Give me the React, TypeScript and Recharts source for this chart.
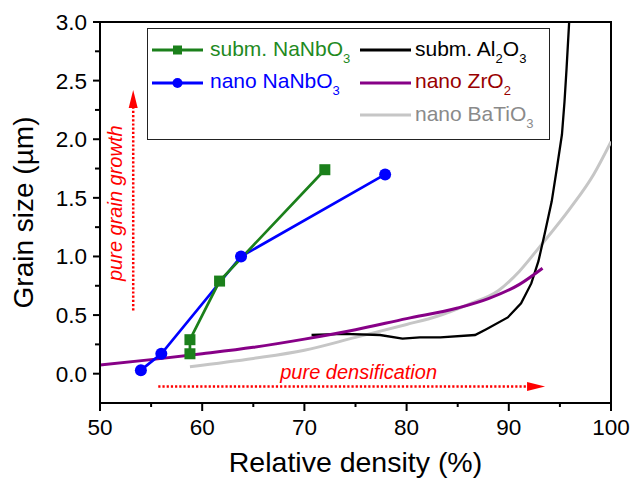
import React from "react";
import {
  Legend,
  Line,
  LineChart,
  ReferenceArea,
  ReferenceLine,
  XAxis,
  YAxis,
} from "recharts";

const FONT = "'Liberation Sans', Arial, sans-serif";

const C = {
  green: "#1b801b",
  greenText: "#1f8a1f",
  blue: "#0000ff",
  black: "#000000",
  purple: "#870087",
  gray: "#c6c6c6",
  red: "#ff0000",
  zrText: "#990000",
  baText: "#8a8a8a",
};

// relative density (%) vs grain size (µm)
const submNaNbO3Density = [58.8, 58.8, 61.7, 72.0];
const submNaNbO3Size = [0.17, 0.29, 0.79, 1.74];

const nanoNaNbO3Density = [54.0, 56.0, 63.8, 77.9];
const nanoNaNbO3Size = [0.03, 0.17, 1.0, 1.7];

const submAl2O3Density = [
  70.7, 73.8, 77.4, 79.6, 81.3, 83.3, 86.7, 87.8, 89.9, 91.2, 92.2, 92.9, 93.5,
  94.2, 94.7, 95.2, 95.45, 95.65, 95.9, 96.1,
];
const submAl2O3Size = [
  0.33, 0.34, 0.33, 0.3, 0.31, 0.31, 0.33, 0.38, 0.48, 0.6, 0.77, 0.96, 1.19,
  1.47, 1.75, 2.04, 2.32, 2.6, 2.99, 3.3,
];

const nanoZrO2Density = [50, 55, 60, 65, 70, 75, 80, 85, 88, 91, 93.3];
const nanoZrO2Size = [0.075, 0.12, 0.17, 0.225, 0.295, 0.375, 0.47, 0.56, 0.64, 0.76, 0.9];

const nanoBaTiO3Density = [58.8, 65, 70, 75, 80, 83, 86, 89, 91, 93, 96, 98.3, 100];
const nanoBaTiO3Size = [0.06, 0.13, 0.2, 0.31, 0.42, 0.49, 0.59, 0.71, 0.87, 1.08, 1.41, 1.7, 1.98];

const xTicks = [50, 55, 60, 65, 70, 75, 80, 85, 90, 95, 100];
const yTicks = [0, 0.25, 0.5, 0.75, 1, 1.25, 1.5, 1.75, 2, 2.25, 2.5, 2.75, 3];

// annotation arrows (data coords)
const grainGrowthArrow = [
  { x: 53.25, y: 0.54 },
  { x: 53.25, y: 2.42 },
];
const densificationArrow = [
  { x: 55.7, y: -0.11 },
  { x: 93.55, y: -0.11 },
];

const zip = (xs: number[], ys: number[]) => xs.map((x, i) => ({ x, y: ys[i] }));

const submNaNbO3 = zip(submNaNbO3Density, submNaNbO3Size);
const nanoNaNbO3 = zip(nanoNaNbO3Density, nanoNaNbO3Size);
const submAl2O3 = zip(submAl2O3Density, submAl2O3Size);
const nanoZrO2 = zip(nanoZrO2Density, nanoZrO2Size);
const nanoBaTiO3 = zip(nanoBaTiO3Density, nanoBaTiO3Size);

function XTick({ x, y, payload }: any) {
  const major = payload.value % 10 === 0;
  return (
    <g>
      <line x1={x} y1={y} x2={x} y2={y + (major ? 8 : 4)} stroke="#000" strokeWidth={2} />
      {major && (
        <text x={x} y={y + 32} textAnchor="middle" fontSize={22.5} fontFamily={FONT} fill="#000">
          {payload.value}
        </text>
      )}
    </g>
  );
}

function YTick({ x, y, payload }: any) {
  const major = Math.abs(payload.value * 2 - Math.round(payload.value * 2)) < 1e-6;
  return (
    <g>
      <line x1={x - (major ? 7 : 5)} y1={y} x2={x} y2={y} stroke="#000" strokeWidth={2} />
      {major && (
        <text x={x - 13} y={y + 8} textAnchor="end" fontSize={22.5} fontFamily={FONT} fill="#000">
          {payload.value.toFixed(1)}
        </text>
      )}
    </g>
  );
}

function XTitle({ viewBox }: any) {
  return (
    <text
      x={viewBox.x + viewBox.width / 2}
      y={viewBox.y + 69}
      textAnchor="middle"
      fontSize={28.5}
      fontFamily={FONT}
      fill="#000"
    >
      Relative density (%)
    </text>
  );
}

function YTitle({ viewBox }: any) {
  const cx = viewBox.x - 7;
  const cy = viewBox.y + viewBox.height / 2;
  return (
    <text
      x={cx}
      y={cy}
      transform={`rotate(-90, ${cx}, ${cy})`}
      textAnchor="middle"
      fontSize={28}
      fontFamily={FONT}
      fill="#000"
    >
      Grain size (µm)
    </text>
  );
}

// dotted red arrow with a filled head
function dottedArrow(text: string, vertical: boolean) {
  return (props: any) => {
    const { x1, y1, x2, y2 } = props;
    const dx = x2 - x1;
    const dy = y2 - y1;
    const len = Math.hypot(dx, dy) || 1;
    const ux = dx / len;
    const uy = dy / len;
    const head = 18;
    const half = 4.5;
    const bx = x2 - ux * head;
    const by = y2 - uy * head;
    const px = -uy * half;
    const py = ux * half;
    const label = vertical ? (
      <text
        x={x1 - 11}
        y={(y1 + y2) / 2 + 3}
        transform={`rotate(-90, ${x1 - 11}, ${(y1 + y2) / 2 + 3})`}
        textAnchor="middle"
        fontSize={20}
        fontStyle="italic"
        fontFamily={FONT}
        fill={C.red}
      >
        {text}
      </text>
    ) : (
      <text x={x1 + 122} y={y1 - 8} fontSize={20} fontStyle="italic" fontFamily={FONT} fill={C.red}>
        {text}
      </text>
    );
    return (
      <g>
        <line x1={x1} y1={y1} x2={bx} y2={by} stroke={C.red} strokeWidth={2.5} strokeDasharray="2.2 2" />
        <polygon points={`${x2},${y2} ${bx + px},${by + py} ${bx - px},${by - py}`} fill={C.red} />
        {label}
      </g>
    );
  };
}

const Sub = ({ children }: { children: React.ReactNode }) => (
  <span style={{ fontSize: 13, position: "relative", top: 7 }}>{children}</span>
);

function Swatch({ color, marker }: { color: string; marker?: "square" | "circle" }) {
  return (
    <svg width={51} height={16} style={{ display: "block" }}>
      <line x1={0} y1={8} x2={51} y2={8} stroke={color} strokeWidth={3} />
      {marker === "square" && <rect x={21} y={3.5} width={9} height={9} fill={color} />}
      {marker === "circle" && <circle cx={25.5} cy={8} r={5} fill={color} />}
    </svg>
  );
}

const legendRows = [
  { col: 0, row: 0, color: C.green, text: C.greenText, marker: "square" as const, label: <>subm. NaNbO<Sub>3</Sub></> },
  { col: 1, row: 0, color: C.black, text: C.black, label: <>subm. Al<Sub>2</Sub>O<Sub>3</Sub></> },
  { col: 0, row: 1, color: C.blue, text: C.blue, marker: "circle" as const, label: <>nano NaNbO<Sub>3</Sub></> },
  { col: 1, row: 1, color: C.purple, text: C.zrText, label: <>nano ZrO<Sub>2</Sub></> },
  { col: 1, row: 2, color: C.gray, text: C.baText, label: <>nano BaTiO<Sub>3</Sub></> },
];

function LegendBox() {
  return (
    <div
      style={{
        position: "relative",
        width: 403,
        height: 112,
        boxSizing: "border-box",
        border: "1px solid #222",
        background: "#fff",
        fontFamily: FONT,
        fontSize: 21,
      }}
    >
      {legendRows.map((r, i) => (
        <div
          key={i}
          style={{
            position: "absolute",
            left: r.col === 0 ? 4 : 212,
            top: 21 + r.row * 32.5 - 16,
            height: 32,
            display: "flex",
            alignItems: "center",
            whiteSpace: "nowrap",
            color: r.text,
          }}
        >
          <Swatch color={r.color} marker={r.marker} />
          <span style={{ marginLeft: r.col === 0 ? 7 : 4, lineHeight: "32px" }}>{r.label}</span>
        </div>
      ))}
    </div>
  );
}

const squareDot = (p: any) => (
  <rect key={`sq-${p.index}`} x={p.cx - 5.5} y={p.cy - 5.5} width={11} height={11} fill={C.green} />
);

export default function App() {
  return (
    <div style={{ position: "absolute", left: 0, top: 0, background: "#fff" }}>
      <LineChart width={631} height={478} margin={{ top: 22, right: 20, bottom: 15, left: 40 }}>
        <XAxis
          type="number"
          dataKey="x"
          domain={[50, 100]}
          ticks={xTicks}
          interval={0}
          allowDataOverflow
          height={60}
          tickSize={0}
          tickMargin={0}
          tickLine={false}
          tick={XTick}
          axisLine={{ stroke: "#000", strokeWidth: 2 }}
          label={XTitle}
        />
        <YAxis
          type="number"
          domain={[-0.25, 3]}
          ticks={yTicks}
          interval={0}
          allowDataOverflow
          width={60}
          tickSize={0}
          tickMargin={0}
          tickLine={false}
          tick={YTick}
          axisLine={{ stroke: "#000", strokeWidth: 2 }}
          label={YTitle}
        />
        <ReferenceArea x1={50} x2={100} y1={-0.25} y2={3} fill="none" stroke="#000" strokeWidth={2} />
        <Line data={nanoBaTiO3} dataKey="y" type="monotone" stroke={C.gray} strokeWidth={3} dot={false} activeDot={false} isAnimationActive={false} />
        <Line data={submAl2O3} dataKey="y" type="linear" stroke={C.black} strokeWidth={2.3} dot={false} activeDot={false} isAnimationActive={false} />
        <Line data={nanoZrO2} dataKey="y" type="monotone" stroke={C.purple} strokeWidth={3} dot={false} activeDot={false} isAnimationActive={false} />
        <Line data={nanoNaNbO3} dataKey="y" type="linear" stroke={C.blue} strokeWidth={2.7} dot={{ r: 6, fill: C.blue, stroke: C.blue, strokeWidth: 0 }} activeDot={false} isAnimationActive={false} />
        <Line data={submNaNbO3} dataKey="y" type="linear" stroke={C.green} strokeWidth={2.7} dot={squareDot} activeDot={false} isAnimationActive={false} />
        <ReferenceLine segment={grainGrowthArrow} shape={dottedArrow("pure grain growth", true)} />
        <ReferenceLine segment={densificationArrow} shape={dottedArrow("pure densification", false)} />
        <Legend
          layout="vertical"
          align="center"
          verticalAlign="middle"
          wrapperStyle={{ left: 147, top: 28, width: 403 }}
          content={() => <LegendBox />}
        />
      </LineChart>
    </div>
  );
}
